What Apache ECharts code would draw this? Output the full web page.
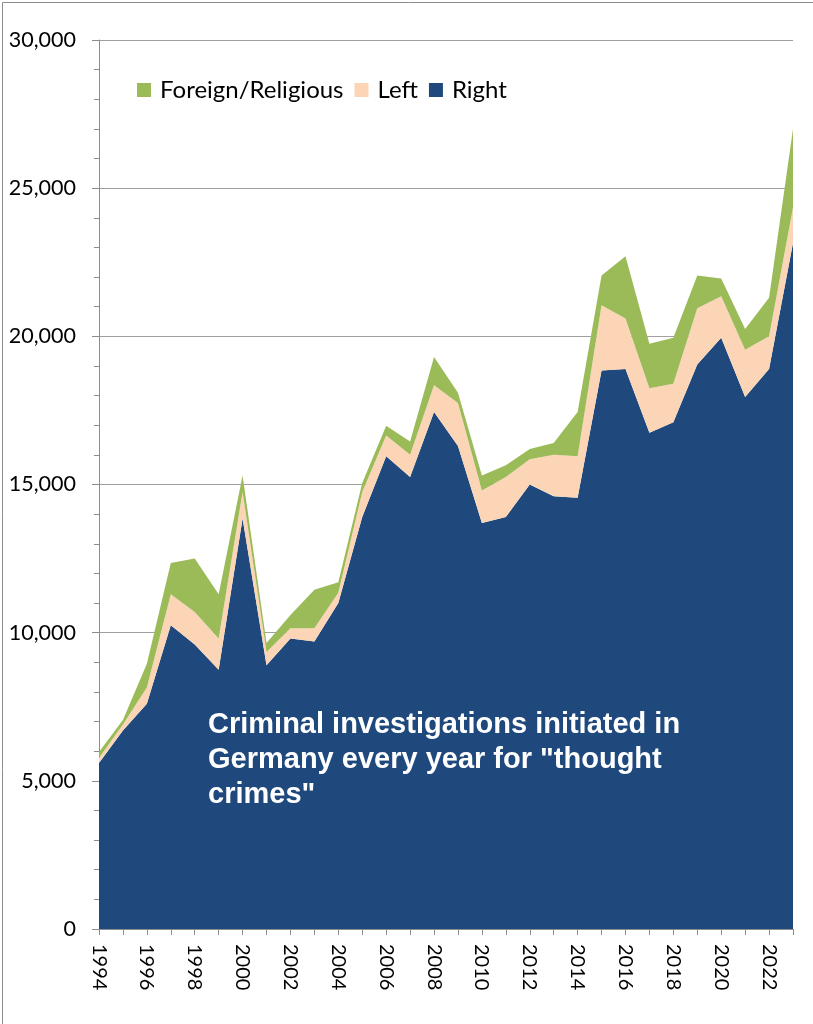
<!DOCTYPE html>
<html>
<head>
<meta charset="utf-8">
<script src="https://cdn.jsdelivr.net/npm/echarts@6/dist/echarts.min.js"></script>
<style>html,body{margin:0;padding:0;background:#fff}#c{width:813px;height:1024px}</style>
</head>
<body>
<div id="c"></div>
<script>
var years = ['1994','1995','1996','1997','1998','1999','2000','2001','2002','2003','2004','2005','2006','2007','2008','2009','2010','2011','2012','2013','2014','2015','2016','2017','2018','2019','2020','2021','2022','2023'];
var right = [5600,6700,7600,10250,9600,8750,13850,8900,9800,9700,11000,13900,15950,15250,17450,16300,13700,13900,15000,14600,14550,18850,18900,16750,17100,19050,19950,17950,18900,23150];
var left = [170,200,550,1050,1100,1050,900,450,350,450,350,850,700,750,900,1450,1100,1350,850,1400,1400,2200,1700,1500,1300,1900,1400,1600,1100,1200];
var foreign = [200,150,800,1050,1800,1500,550,300,450,1300,350,300,330,450,950,350,500,400,350,400,1500,1000,2100,1500,1550,1100,600,700,1300,2650];
var seriesNames = ['Foreign/Religious','Left','Right'];
var yTicks = [0,5000,10000,15000,20000,25000,30000];
var annotation = 'Criminal investigations initiated in\nGermany every year for "thought\ncrimes"';

var chart = echarts.init(document.getElementById('c'), null, {renderer:'canvas'});
function area(name, data, color){
  return {name:name, type:'line', stack:'total', data:data, symbol:'none', showSymbol:false,
    lineStyle:{width:0}, areaStyle:{color:color, opacity:1}, itemStyle:{color:color}, z:2};
}
chart.setOption({
  animation:false,
  backgroundColor:'#fff',
  grid:{left:99, right:20, top:40, bottom:95, containLabel:false},
  legend:{data:seriesNames, left:137, top:78, padding:0, icon:'rect', itemWidth:14, itemHeight:14, itemGap:11,
    textStyle:{fontFamily:'Lato', fontSize:24, color:'#000', padding:[0,0,0,4]}},
  xAxis:{type:'category', data:years, boundaryGap:false,
    axisLine:{lineStyle:{color:'#8c8c8c', width:1}},
    axisTick:{interval:0, length:6, lineStyle:{color:'#8c8c8c'}},
    axisLabel:{interval:1, rotate:-90, margin:15, fontFamily:'Lato', fontSize:20, color:'#000'},
    splitLine:{show:false}},
  yAxis:{type:'value', min:yTicks[0], max:yTicks[yTicks.length-1], interval:5000,
    axisLine:{show:true, lineStyle:{color:'#8c8c8c'}},
    axisTick:{show:true, length:7, lineStyle:{color:'#8c8c8c'}},
    minorTick:{show:true, splitNumber:5, length:5, lineStyle:{color:'#8c8c8c'}},
    splitLine:{show:true, lineStyle:{color:'#a0a0a0', width:1}},
    axisLabel:{margin:23, fontFamily:'Lato', fontSize:21.5, color:'#000',
      formatter:function(v){return v.toLocaleString('en-US');}}},
  series:[
    area(seriesNames[2], right, '#1f497d'),
    area(seriesNames[1], left, '#fbd5b5'),
    area(seriesNames[0], foreign, '#9bbb59')
  ],
  graphic:[
    {type:'rect', left:0, top:0, shape:{x:0.5,y:0.5,width:812,height:1023}, style:{fill:'none', stroke:'#8c8c8c', lineWidth:1}, silent:true, z:0},
    {type:'text', left:208, top:707, z:100, style:{text:annotation, fill:'#fff', font:'bold 29px "Liberation Sans", Arial, sans-serif', lineHeight:35}}
  ]
});
</script>
</body>
</html>
